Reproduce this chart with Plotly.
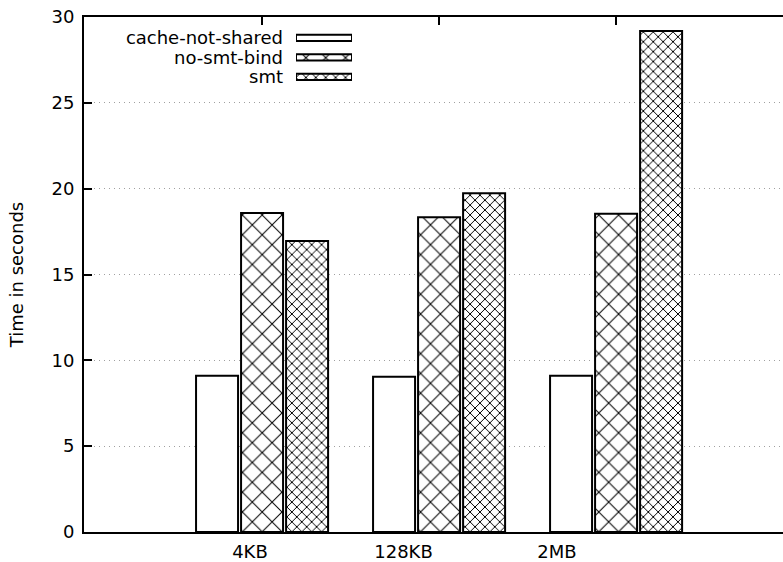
import plotly.graph_objects as go

categories = ["4KB", "128KB", "2MB"]
series_names = ["cache-not-shared", "no-smt-bind", "smt"]
cache_not_shared = [9.1, 9.05, 9.1]
no_smt_bind = [18.58, 18.33, 18.54]
smt = [16.95, 19.73, 29.18]
y_ticks = [0, 5, 10, 15, 20, 25, 30]

values = [cache_not_shared, no_smt_bind, smt]
pat_shape = ["", "x", "x"]
pat_size = [8, 14, 7]
pat_solid = [0.1, 0.14, 0.26]

FONT = "DejaVu Sans"
FS = 18

fig = go.Figure()
for name, vals, sh, sz, so in zip(series_names, values, pat_shape, pat_size, pat_solid):
    fig.add_trace(go.Bar(
        x=categories, y=vals, name=name, showlegend=False,
        marker=dict(color="white", line=dict(color="black", width=2),
                    pattern=dict(shape=sh, size=sz, solidity=so,
                                 fgcolor="black", bgcolor="white", fillmode="replace")),
    ))

# custom legend (text left, swatch right) as a tiny subplot
fig.add_trace(go.Bar(
    y=series_names, x=[1] * len(series_names), orientation="h", width=0.32,
    xaxis="x2", yaxis="y2", showlegend=False, hoverinfo="skip",
    marker=dict(color="white", line=dict(color="black", width=2),
                pattern=dict(shape=pat_shape, size=pat_size, solidity=pat_solid,
                             fgcolor="black", bgcolor="white", fillmode="replace")),
))

# axis carrying the category labels
fig.add_trace(go.Scatter(x=categories, y=[None] * len(categories), xaxis="x3", yaxis="y",
                         mode="markers", showlegend=False, hoverinfo="skip"))

fig.update_layout(
    width=783, height=562,
    margin=dict(l=84, r=0, t=17, b=30),
    paper_bgcolor="white", plot_bgcolor="white",
    font=dict(family=FONT, size=FS, color="black"),
    barmode="group", bargap=0.237, bargroupgap=0.067,
    xaxis=dict(type="category", categoryarray=categories, range=[-1.006, 2.943],
               showticklabels=False, ticks="inside", ticklen=8, tickwidth=2, tickcolor="black",
               showline=True, linecolor="black", linewidth=2, mirror="allticks",
               showgrid=False, zeroline=False, layer="below traces"),
    xaxis3=dict(type="category", categoryarray=categories, range=[-1.081, 3.472],
                overlaying="x", anchor="y", side="bottom", showline=False, ticks="",
                tickmode="array", tickvals=categories, ticktext=categories,
                showgrid=False, zeroline=False, ticklabelstandoff=7,
                tickfont=dict(family=FONT, size=FS, color="black")),
    yaxis=dict(range=[0, 30], tickvals=y_ticks, ticks="inside", ticklen=8, tickwidth=2,
               tickcolor="black", showline=True, linecolor="black", linewidth=2, mirror=False,
               showgrid=True, gridcolor="#a0a0a0", griddash="1px,4px", gridwidth=1,
               zeroline=False, layer="below traces", ticklabelstandoff=4,
               title=dict(text="Time in seconds", standoff=23,
                          font=dict(family=FONT, size=FS, color="black"))),
    xaxis2=dict(domain=[0.3033, 0.3834], anchor="y2", range=[0, 1], visible=False),
    yaxis2=dict(domain=[0.865, 0.9786], anchor="x2", type="category",
                categoryarray=series_names, autorange="reversed",
                tickmode="array", tickvals=series_names, ticktext=series_names,
                showline=False, ticks="", showgrid=False, zeroline=False,
                ticklabelstandoff=12, tickfont=dict(family=FONT, size=FS, color="black")),
)

fig.write_html("out.html", config={"displayModeBar": False},
               post_script="document.body.style.margin='0';document.body.style.padding='0';"
                           "document.documentElement.style.overflow='hidden';")
